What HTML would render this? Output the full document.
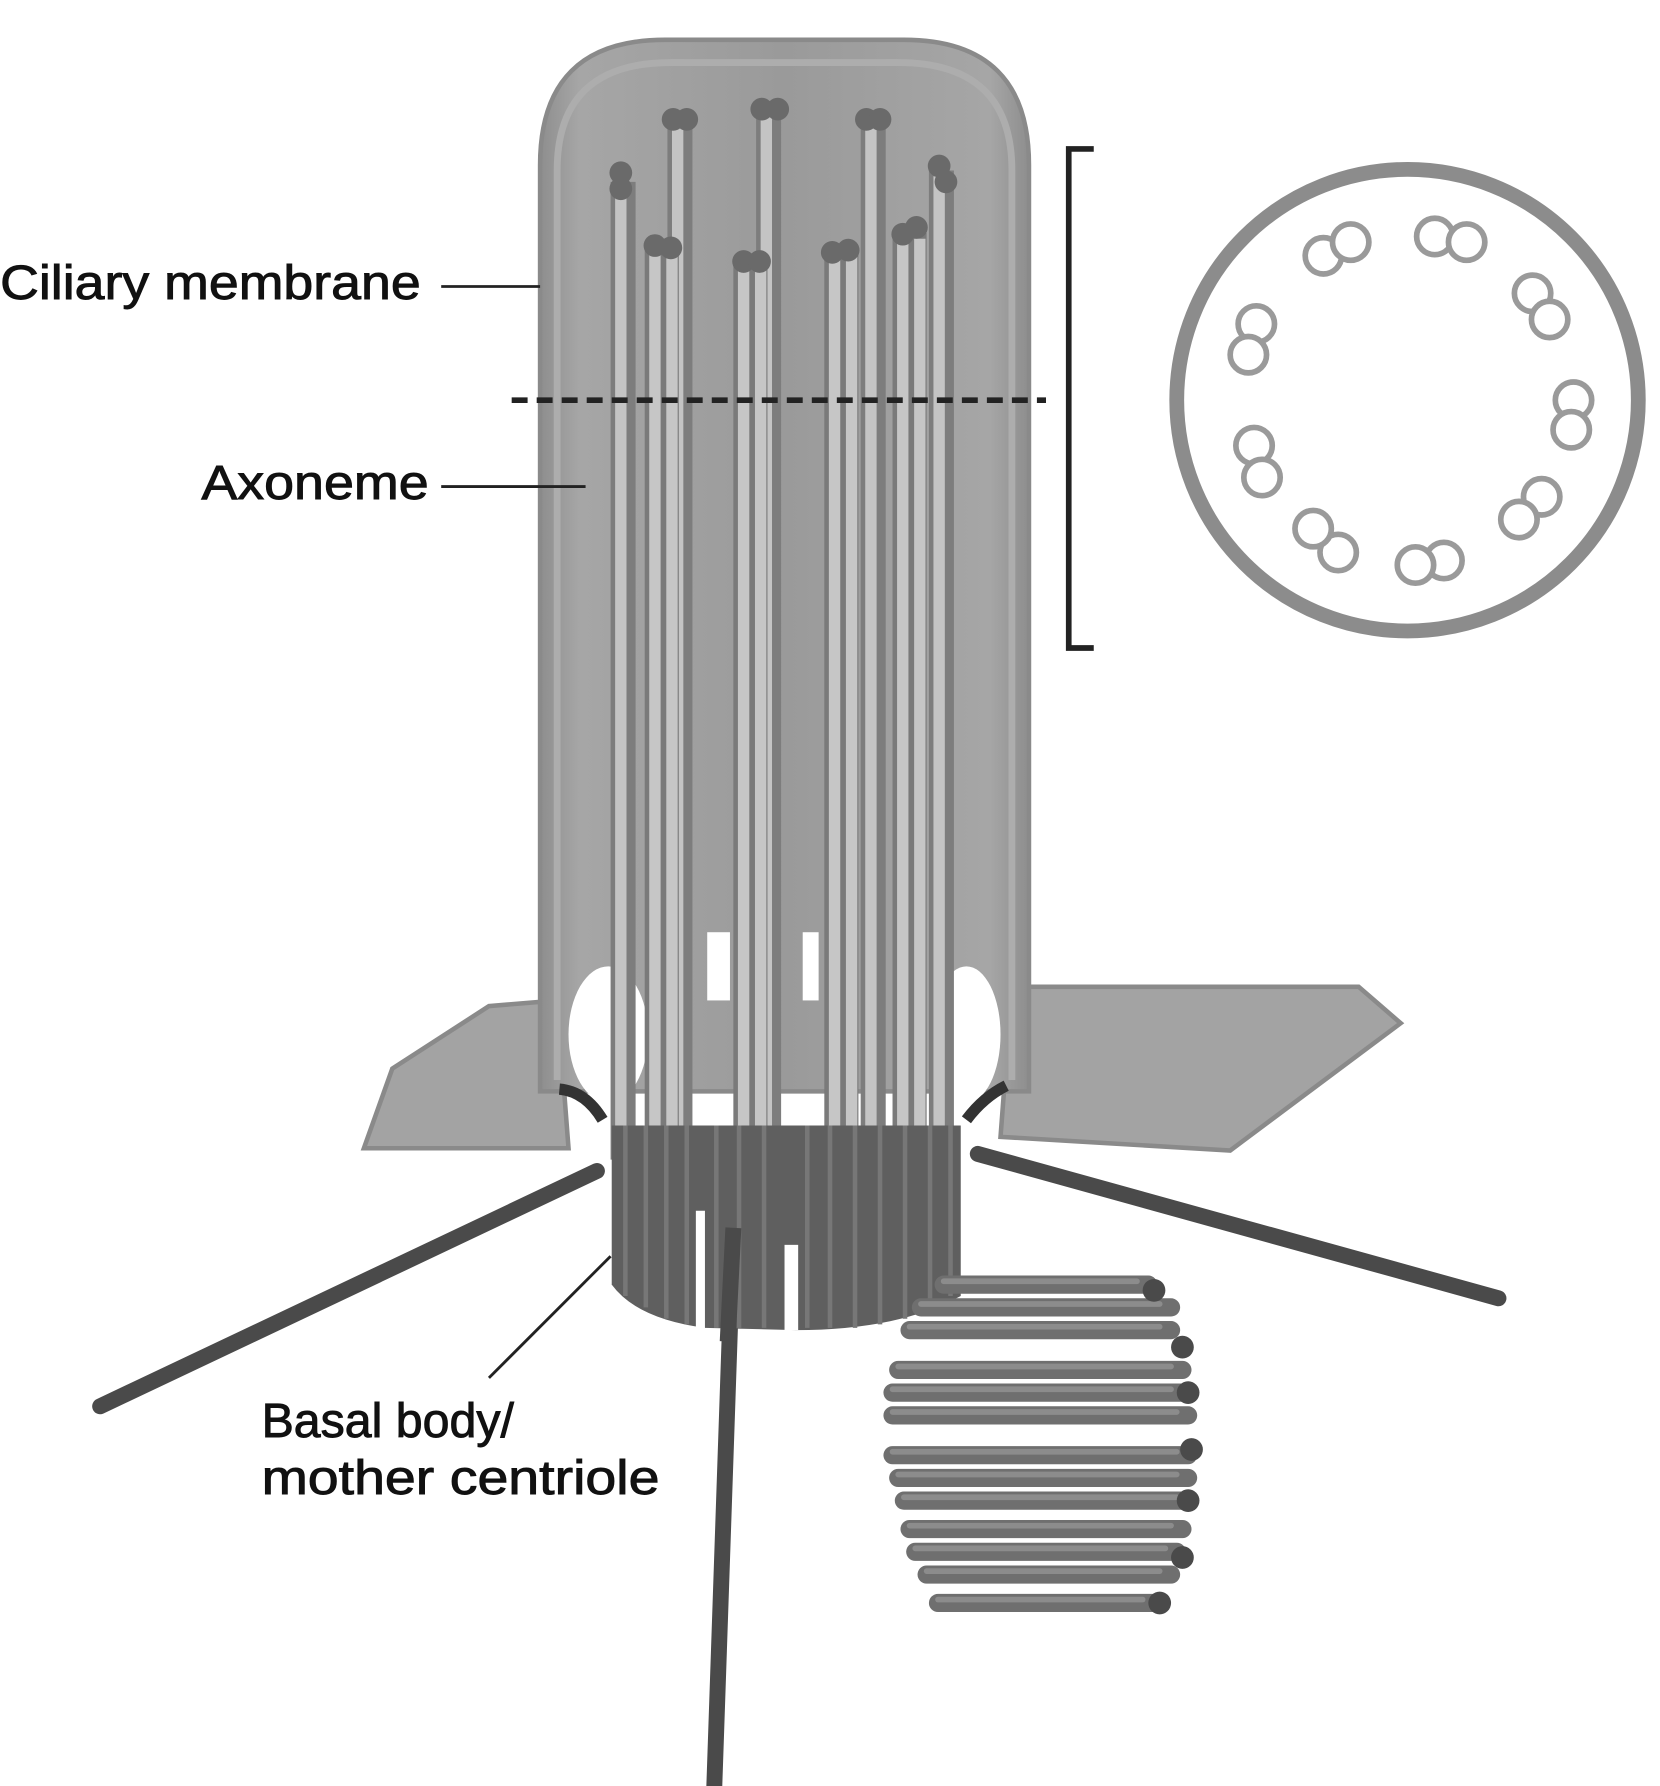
<!DOCTYPE html>
<html><head><meta charset="utf-8"><style>html,body{margin:0;padding:0;background:#fff}svg{display:block}</style></head>
<body>
<svg width="1660" height="1786" viewBox="0 0 1460 1571" xmlns="http://www.w3.org/2000/svg" font-family="Liberation Sans, sans-serif">
<defs>
<linearGradient id="body" x1="0" x2="1" y1="0" y2="0">
<stop offset="0" stop-color="#8e8e8e"/><stop offset="0.08" stop-color="#a6a6a6"/><stop offset="0.5" stop-color="#9a9a9a"/><stop offset="0.92" stop-color="#a6a6a6"/><stop offset="1" stop-color="#8e8e8e"/>
</linearGradient>
</defs>
<path d="M320 1010 L345 940 L430 885 L490 880 L500 1010 Z" fill="#a3a3a3" stroke="#8a8a8a" stroke-width="4"/>
<path d="M890 868 L1195 868 L1232 900 L1082 1012 L880 1000 Z" fill="#a3a3a3" stroke="#8a8a8a" stroke-width="4"/>
<path d="M475 960 L475 145 Q475 35 585 35 L795 35 Q905 35 905 145 L905 960 Z" fill="url(#body)" stroke="#8a8a8a" stroke-width="4"/>
<path d="M490 950 L490 150 Q490 55 590 55 L790 55 Q890 55 890 150 L890 950" fill="none" stroke="#adadad" stroke-width="6"/>
<ellipse cx="535" cy="910" rx="35" ry="60" fill="#fff"/>
<ellipse cx="850" cy="910" rx="30" ry="60" fill="#fff"/>
<rect x="622" y="820" width="20" height="60" fill="#fff"/>
<rect x="706" y="820" width="14" height="60" fill="#fff"/>
<g stroke-linecap="butt">
<g stroke="#7d7d7d" stroke-width="22">
<line x1="598" y1="105" x2="598" y2="1020"/><line x1="676" y1="95" x2="676" y2="1020"/><line x1="768" y1="105" x2="768" y2="1020"/><line x1="828" y1="150" x2="828" y2="1020"/><line x1="548" y1="160" x2="548" y2="1020"/>
</g>
<g stroke="#c4c4c4" stroke-width="10">
<line x1="596" y1="110" x2="596" y2="1020"/><line x1="674" y1="100" x2="674" y2="1020"/><line x1="766" y1="110" x2="766" y2="1020"/><line x1="826" y1="155" x2="826" y2="1020"/><line x1="546" y1="165" x2="546" y2="1020"/>
</g>
<g stroke="#7a7a7a" stroke-width="30">
<line x1="582" y1="218" x2="582" y2="1030"/><line x1="660" y1="230" x2="660" y2="1030"/><line x1="740" y1="222" x2="740" y2="1030"/><line x1="800" y1="205" x2="800" y2="1030"/>
</g>
<g stroke="#c6c6c6" stroke-width="10">
<line x1="576" y1="222" x2="576" y2="1020"/><line x1="654" y1="234" x2="654" y2="1020"/><line x1="734" y1="226" x2="734" y2="1020"/><line x1="794" y1="210" x2="794" y2="1020"/>
<line x1="591" y1="222" x2="591" y2="1020"/><line x1="669" y1="234" x2="669" y2="1020"/><line x1="749" y1="226" x2="749" y2="1020"/><line x1="809" y1="210" x2="809" y2="1020"/>
</g>
</g>
<g fill="#6a6a6a">
<circle cx="592" cy="105" r="10"/><circle cx="604" cy="105" r="10"/><circle cx="670" cy="96" r="10"/><circle cx="684" cy="96" r="10"/><circle cx="762" cy="105" r="10"/><circle cx="774" cy="105" r="10"/>
<circle cx="546" cy="152" r="10"/><circle cx="546" cy="166" r="10"/><circle cx="826" cy="146" r="10"/><circle cx="832" cy="160" r="10"/>
<circle cx="576" cy="216" r="10"/><circle cx="590" cy="218" r="10"/><circle cx="654" cy="230" r="10"/><circle cx="668" cy="230" r="10"/><circle cx="732" cy="222" r="10"/><circle cx="746" cy="220" r="10"/><circle cx="794" cy="206" r="10"/><circle cx="806" cy="200" r="10"/>
</g>
<path d="M492 958 Q515 960 530 985" fill="none" stroke="#333" stroke-width="10"/>
<path d="M885 955 Q865 965 850 985" fill="none" stroke="#333" stroke-width="10"/>
<g stroke="#4a4a4a" stroke-width="14" stroke-linecap="round">
<line x1="525" y1="1030" x2="88" y2="1237"/>
<line x1="860" y1="1015" x2="1318" y2="1142"/>
<line x1="645" y1="1080" x2="628" y2="1578"/>
</g>
<path d="M538 990 L845 990 L845 1140 Q790 1170 700 1170 L620 1168 Q560 1160 538 1130 Z" fill="#5f5f5f"/>
<g stroke="#777" stroke-width="4">
<line x1="550" y1="990" x2="550" y2="1140"/><line x1="568" y1="990" x2="568" y2="1150"/><line x1="586" y1="990" x2="586" y2="1160"/><line x1="604" y1="990" x2="604" y2="1165"/>
<line x1="630" y1="990" x2="630" y2="1168"/><line x1="650" y1="990" x2="650" y2="1168"/><line x1="672" y1="990" x2="672" y2="1168"/>
<line x1="710" y1="990" x2="710" y2="1168"/><line x1="730" y1="990" x2="730" y2="1168"/><line x1="752" y1="990" x2="752" y2="1168"/><line x1="774" y1="990" x2="774" y2="1165"/><line x1="796" y1="990" x2="796" y2="1160"/><line x1="818" y1="990" x2="818" y2="1150"/><line x1="836" y1="990" x2="836" y2="1140"/>
</g>
<rect x="690" y="1095" width="12" height="75" fill="#fff"/>
<rect x="612" y="1065" width="8" height="105" fill="#fff"/>
<line x1="645" y1="1080" x2="640" y2="1180" stroke="#4a4a4a" stroke-width="14"/>
<g stroke-linecap="round">
<g stroke="#6f6f6f" stroke-width="16">
<line x1="830" y1="1130" x2="1010" y2="1130"/><line x1="810" y1="1150" x2="1030" y2="1150"/><line x1="800" y1="1170" x2="1030" y2="1170"/>
<line x1="790" y1="1205" x2="1040" y2="1205"/><line x1="785" y1="1225" x2="1040" y2="1225"/><line x1="785" y1="1245" x2="1045" y2="1245"/>
<line x1="785" y1="1280" x2="1045" y2="1280"/><line x1="790" y1="1300" x2="1045" y2="1300"/><line x1="795" y1="1320" x2="1045" y2="1320"/>
<line x1="800" y1="1345" x2="1040" y2="1345"/><line x1="805" y1="1365" x2="1035" y2="1365"/><line x1="815" y1="1385" x2="1030" y2="1385"/><line x1="825" y1="1410" x2="1015" y2="1410"/>
</g>
<g stroke="#8c8c8c" stroke-width="5">
<line x1="830" y1="1127" x2="1000" y2="1127"/><line x1="810" y1="1147" x2="1020" y2="1147"/><line x1="800" y1="1167" x2="1020" y2="1167"/>
<line x1="790" y1="1202" x2="1030" y2="1202"/><line x1="785" y1="1222" x2="1030" y2="1222"/><line x1="785" y1="1242" x2="1035" y2="1242"/>
<line x1="785" y1="1277" x2="1035" y2="1277"/><line x1="790" y1="1297" x2="1035" y2="1297"/><line x1="795" y1="1317" x2="1035" y2="1317"/>
<line x1="800" y1="1342" x2="1030" y2="1342"/><line x1="805" y1="1362" x2="1025" y2="1362"/><line x1="815" y1="1382" x2="1020" y2="1382"/><line x1="825" y1="1407" x2="1005" y2="1407"/>
</g>
</g>
<g fill="#4a4a4a"><circle cx="1015" cy="1135" r="10"/><circle cx="1040" cy="1185" r="10"/><circle cx="1045" cy="1225" r="10"/><circle cx="1048" cy="1275" r="10"/><circle cx="1045" cy="1320" r="10"/><circle cx="1040" cy="1370" r="10"/><circle cx="1020" cy="1410" r="10"/></g>
<rect x="790" y="1185" width="80" height="10" fill="#fff"/>
<rect x="790" y="1258" width="70" height="12" fill="#fff"/>
<line x1="450" y1="352" x2="920" y2="352" stroke="#222" stroke-width="5" stroke-dasharray="14 8"/>
<path d="M962 131 L940 131 L940 570 L962 570" fill="none" stroke="#222" stroke-width="5"/>
<circle cx="1238" cy="352" r="203" fill="#fff" stroke="#8c8c8c" stroke-width="13"/>
<g fill="#fff" stroke="#9a9a9a" stroke-width="5">
<circle cx="1164" cy="225" r="16"/><circle cx="1188" cy="213" r="16"/>
<circle cx="1262" cy="208" r="16"/><circle cx="1290" cy="213" r="16"/>
<circle cx="1348" cy="258" r="16"/><circle cx="1363" cy="281" r="16"/>
<circle cx="1384" cy="352" r="16"/><circle cx="1382" cy="378" r="16"/>
<circle cx="1356" cy="437" r="16"/><circle cx="1336" cy="457" r="16"/>
<circle cx="1270" cy="493" r="16"/><circle cx="1245" cy="497" r="16"/>
<circle cx="1177" cy="486" r="16"/><circle cx="1155" cy="465" r="16"/>
<circle cx="1103" cy="392" r="16"/><circle cx="1110" cy="420" r="16"/>
<circle cx="1105" cy="285" r="16"/><circle cx="1098" cy="312" r="16"/>
</g>
<g font-size="42" fill="#111" stroke="#111" stroke-width="0.8">
<text x="0" y="263" textLength="370" lengthAdjust="spacingAndGlyphs">Ciliary membrane</text>
<text x="177" y="439" textLength="200" lengthAdjust="spacingAndGlyphs">Axoneme</text>
<text x="230" y="1264" textLength="222" lengthAdjust="spacingAndGlyphs">Basal body/</text>
<text x="230" y="1314" textLength="350" lengthAdjust="spacingAndGlyphs">mother centriole</text>
</g>
<g stroke="#222" stroke-width="2.5">
<line x1="388" y1="252" x2="475" y2="252"/>
<line x1="388" y1="428" x2="515" y2="428"/>
<line x1="430" y1="1212" x2="537" y2="1105"/>
</g>
</svg>
</body></html>
